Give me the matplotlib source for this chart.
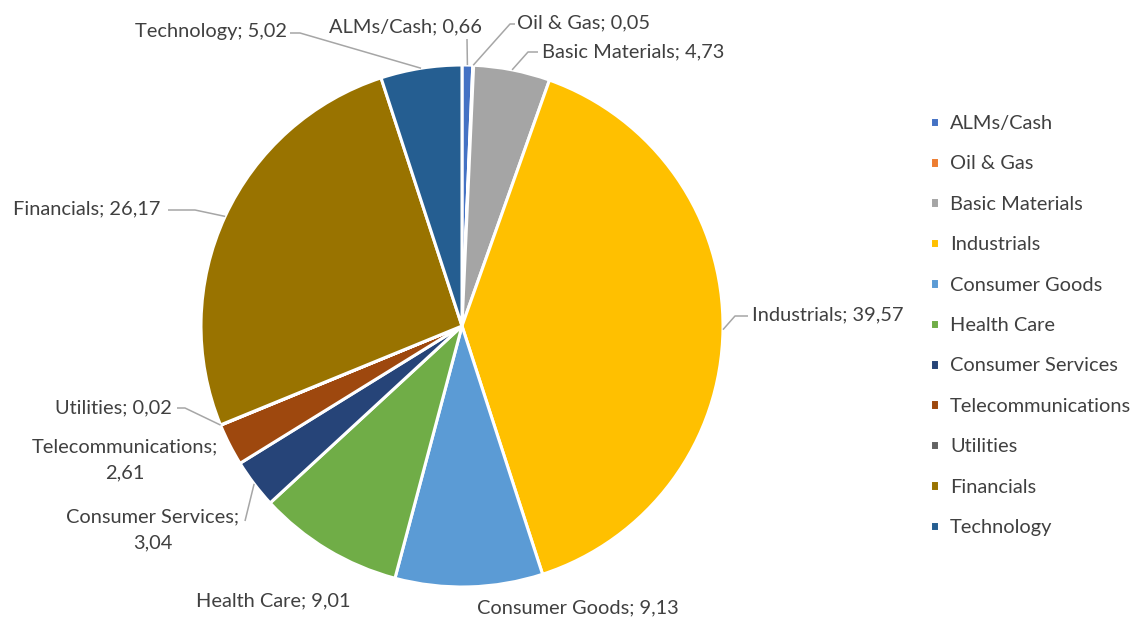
import numpy as np
import matplotlib.pyplot as plt

plt.rcParams['font.family'] = ['Lato', 'DejaVu Sans']

sectors = ['ALMs/Cash', 'Oil & Gas', 'Basic Materials', 'Industrials',
           'Consumer Goods', 'Health Care', 'Consumer Services',
           'Telecommunications', 'Utilities', 'Financials', 'Technology']
weights = [0.66, 0.05, 4.73, 39.57, 9.13, 9.01, 3.04, 2.61, 0.02, 26.17, 5.02]
colors = ['#4472C4', '#ED7D31', '#A5A5A5', '#FFC000', '#5B9BD5', '#70AD47',
          '#264478', '#9E480E', '#636363', '#997300', '#255E91']

W, H = 1139, 619
CX, CY, R = 462, 326, 261   # pie centre / radius in pixels

# label layout in pixels: (x, baseline y, ha, line break?, leader points)
layout = {
    'ALMs/Cash':          (482, 32, 'right', False, [(467, 39)]),
    'Oil & Gas':          (517, 28, 'left', False, [(510, 24), (515, 24)]),
    'Basic Materials':    (542, 57, 'left', False, [(528, 52), (538, 52)]),
    'Industrials':        (752, 320, 'left', False, [(735, 316), (748, 316)]),
    'Consumer Goods':     (477, 613, 'left', False, []),
    'Health Care':        (350, 606, 'right', False, []),
    'Consumer Services':  (239, 548, 'right', True, [(245, 521)]),
    'Telecommunications': (218, 478, 'right', True, []),
    'Utilities':          (172, 413, 'right', False, [(185, 408), (177, 408)]),
    'Financials':         (160, 214, 'right', False, [(195, 210), (168, 210)]),
    'Technology':         (287, 37, 'right', False, [(300, 33), (290, 33)]),
}


def px(x, y):
    return (x - CX) / R, (CY - y) / R


fig = plt.figure(figsize=(W / 100, H / 100), dpi=100)
ax = fig.add_axes([0, 0, 1, 1])
ax.set_xlim(-CX / R, (W - CX) / R)
ax.set_ylim(-(H - CY) / R, CY / R)
ax.set_aspect('equal')
ax.axis('off')

wedges, _ = ax.pie(weights, colors=colors, startangle=90, counterclock=False,
                   radius=1, center=(0, 0), frame=True,
                   wedgeprops=dict(edgecolor='white', linewidth=2.2))
ax.axis('off')

text_color = '#404040'
fs = 14.4
for w, name, val in zip(wedges, sectors, weights):
    x, y, ha, wrap, leader = layout[name]
    txt = f'{val:.2f}'.replace('.', ',')
    if wrap:
        label = f'{name};\n{txt}'
    else:
        label = f'{name}; {txt}'
    tx, ty = px(x, y)
    ax.text(tx, ty, label, ha=ha, va='baseline', fontsize=fs,
            color=text_color, multialignment='center', linespacing=1.6)
    if leader:
        mid = np.deg2rad((w.theta1 + w.theta2) / 2)
        pts = [(np.cos(mid), np.sin(mid))] + [px(a, b) for a, b in leader]
        xs, ys = zip(*pts)
        ax.plot(xs, ys, color='#A6A6A6', lw=1.1, solid_capstyle='butt')

fig.legend(wedges, sectors, loc='upper left', bbox_to_anchor=(920 / W, 1 - 105 / H),
           frameon=False, fontsize=fs, labelcolor=text_color,
           handlelength=0.45, handleheight=0.45, handletextpad=0.55,
           labelspacing=1.17, borderpad=0)

fig.savefig('out.png', dpi=100)
